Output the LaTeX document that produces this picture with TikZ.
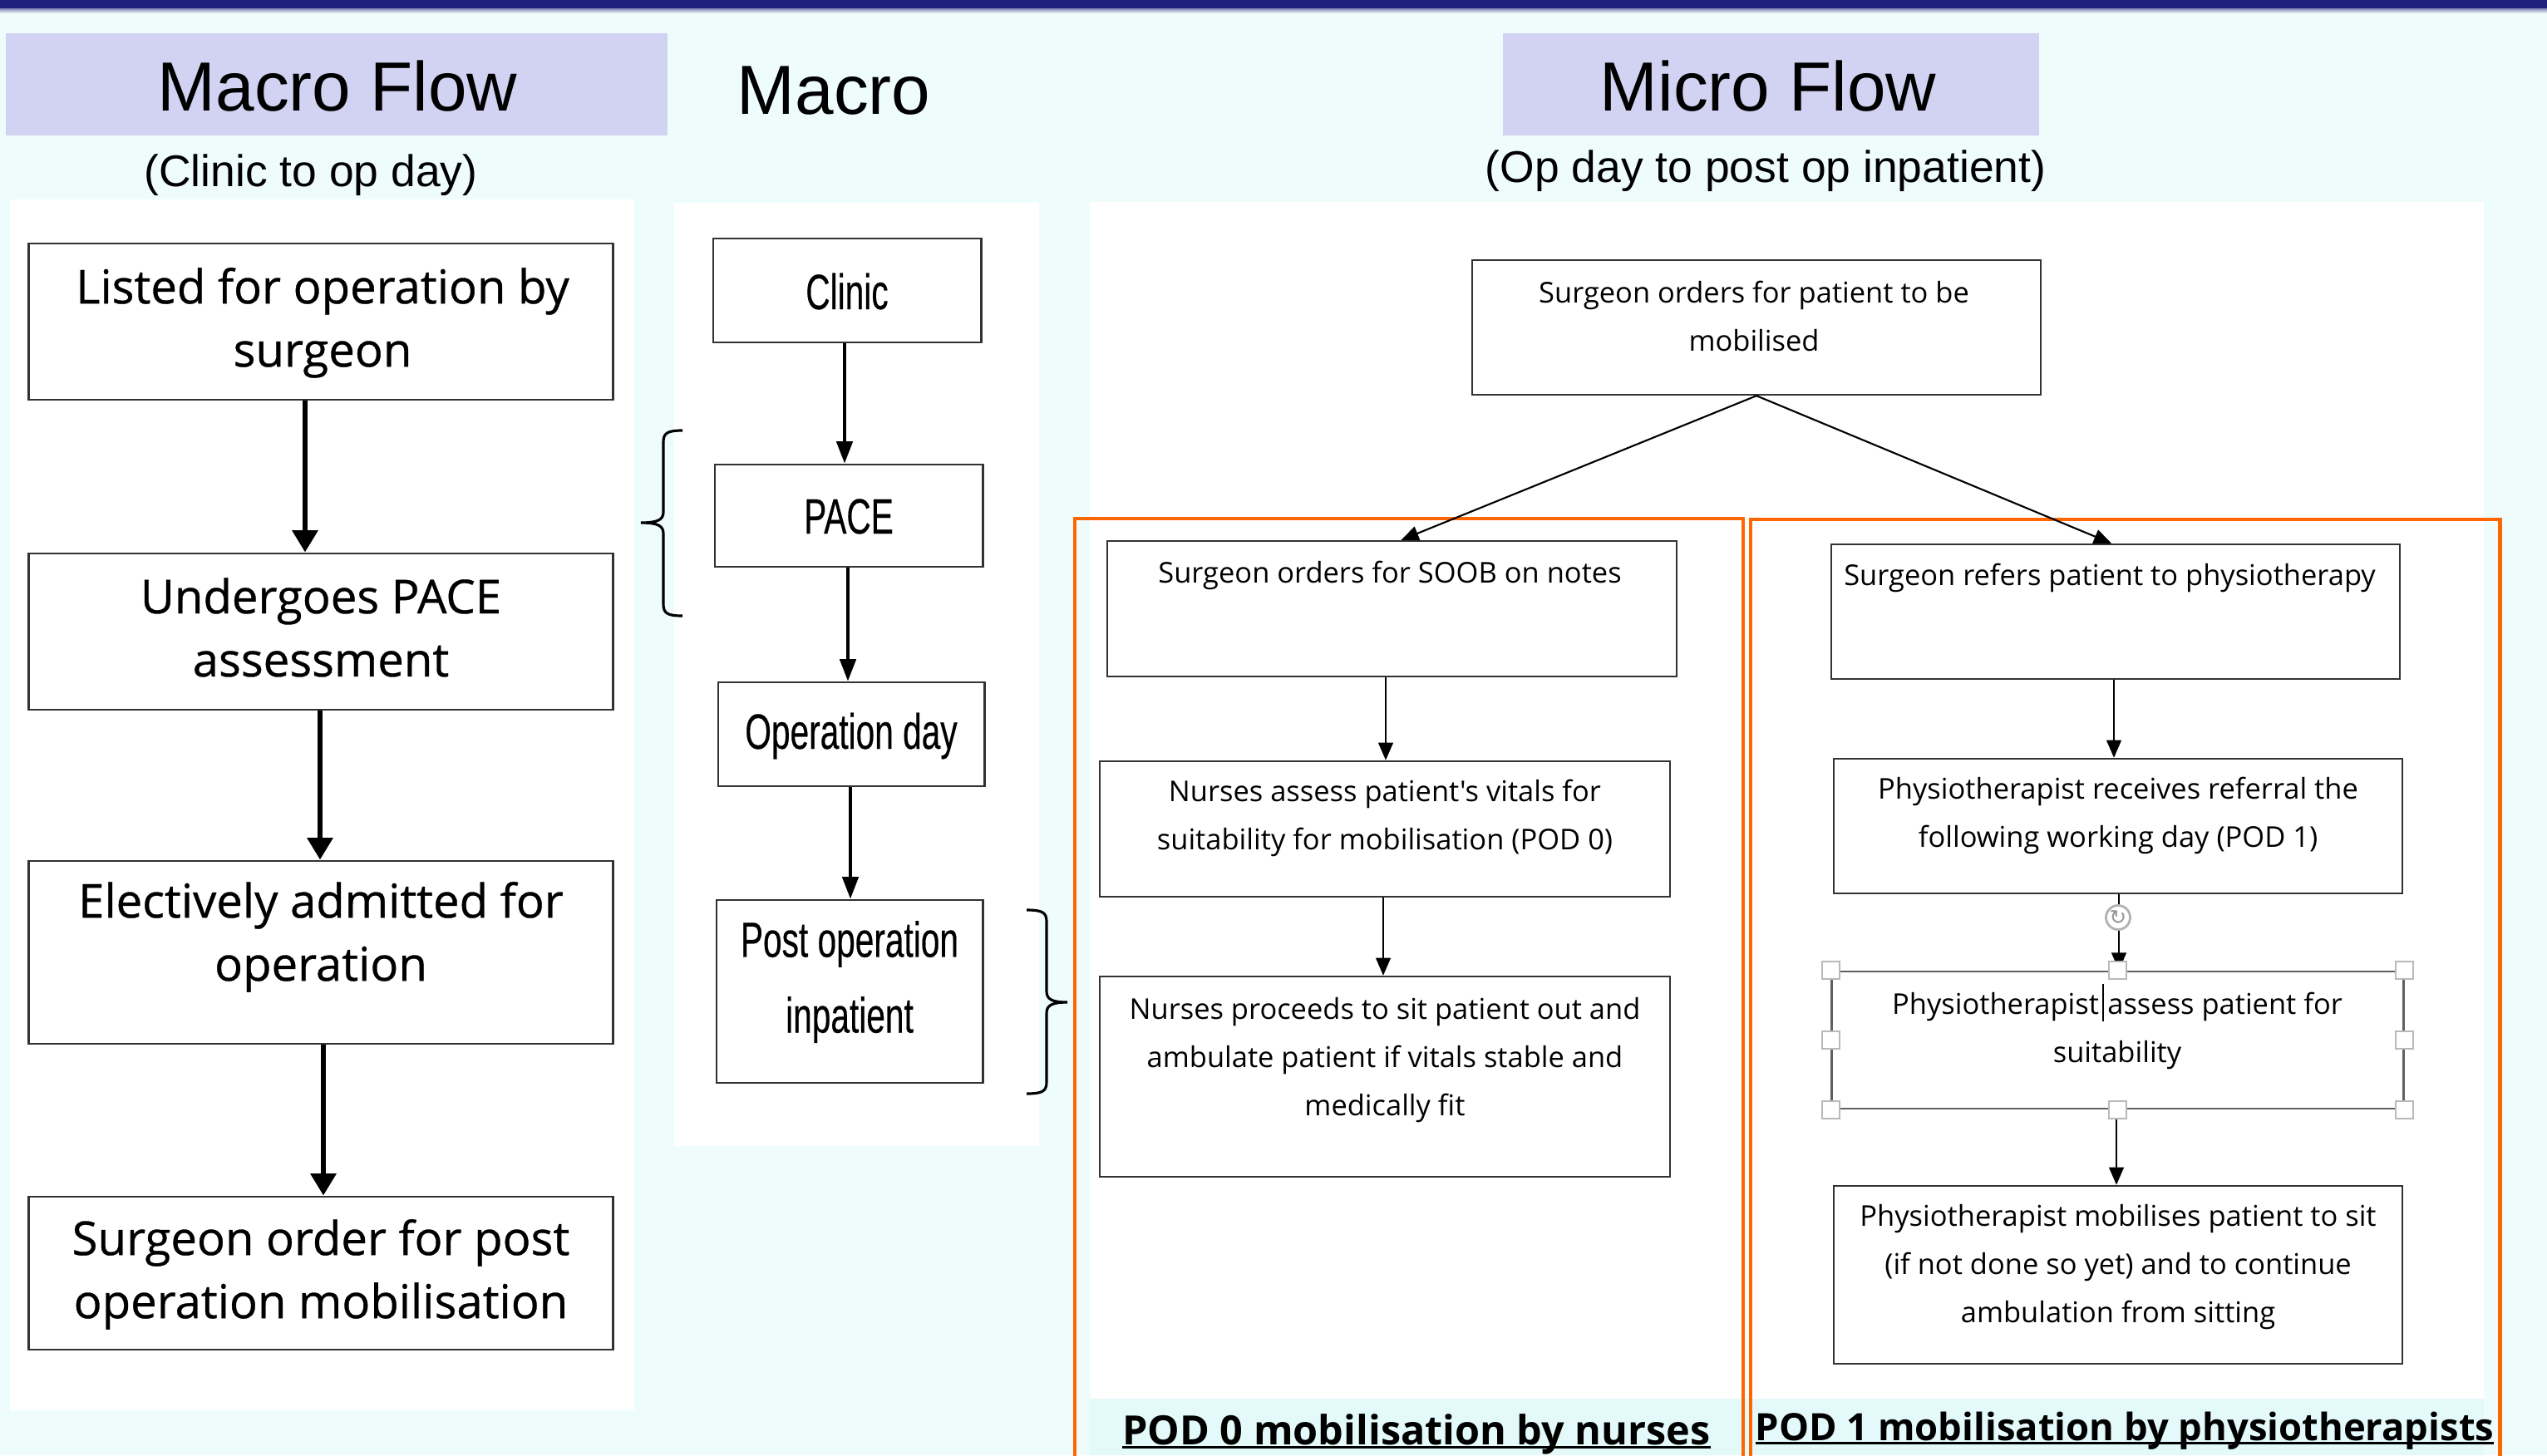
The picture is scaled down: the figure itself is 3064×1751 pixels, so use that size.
\documentclass[tikz,border=0pt]{standalone}
\usepackage{fontspec}
\setmainfont{Liberation Sans}
\newfontfamily\apt{Open Sans}
\newfontfamily\aptm[FakeBold=0.6]{Open Sans}
\newfontfamily\narrowf[FakeStretch=0.68,FakeBold=0.3]{Liberation Sans}
\newfontfamily\dejavu{DejaVu Sans}
\usetikzlibrary{arrows.meta}
\definecolor{bgc}{RGB}{238,252,252}
\definecolor{stripc}{RGB}{228,249,249}
\definecolor{navy}{RGB}{30,32,122}
\definecolor{lav}{RGB}{210,210,242}
\definecolor{orng}{RGB}{255,102,0}
\definecolor{boxline}{RGB}{50,50,50}
\newcommand\myul[1]{\setbox0\hbox{#1}\rlap{\rule[-0.11em]{\wd0}{0.075em}}\box0}
\begin{document}
\begin{tikzpicture}[x=0.01cm,y=-0.01cm,
  lbox/.style={draw=boxline,line width=0.8pt,fill=white,inner sep=0pt,rectangle},
  mbox/.style={draw=boxline,line width=0.8pt,fill=white,inner sep=0pt,rectangle},
  ubox/.style={draw=boxline,line width=0.65pt,fill=white,inner sep=0pt,rectangle},
  selbox/.style={draw=gray!75!black,line width=0.8pt,fill=white,inner sep=0pt,rectangle},
  ltext/.style={align=center,inner sep=0pt,font=\aptm\fontsize{16pt}{21.6pt}\selectfont,
    execute at begin node=\strut,execute at end node=\strut},
  mtext/.style={inner sep=0pt,anchor=base,font=\narrowf\fontsize{17pt}{25.9pt}\selectfont},
  mtext2/.style={align=center,inner sep=0pt,font=\narrowf\fontsize{17pt}{25.9pt}\selectfont,
    execute at begin node=\strut,execute at end node=\strut},
  utext/.style={align=center,inner sep=0pt,font=\apt\fontsize{9.8pt}{16.5pt}\selectfont,
    execute at begin node=\strut,execute at end node=\strut},
  utext1/.style={inner sep=0pt,anchor=base,font=\apt\fontsize{9.8pt}{16.5pt}\selectfont},
  hdr/.style={inner sep=0pt,anchor=base,font=\fontsize{23.8pt}{28pt}\selectfont},
  sub/.style={inner sep=0pt,anchor=base,font=\fontsize{15.2pt}{18pt}\selectfont},
  podlbl/.style={inner sep=0pt,anchor=base},
  thickarr/.style={line width=1.8pt,-{Triangle[width=8.5pt,length=7.5pt]}},
  midarr/.style={line width=1pt,-{Triangle[width=5.5pt,length=7.5pt]}},
  micarr/.style={line width=0.65pt,-{Triangle[width=5pt,length=6pt]}},
  bracestyle/.style={line width=0.9pt,black},
  frame/.style={draw=orng,line width=1.4pt},
  handle/.style={rectangle,minimum size=0.21cm,inner sep=0pt,fill=white,draw=gray!55,line width=0.6pt}
]
% background
\useasboundingbox (0,0) rectangle (3064,1751);
\fill[bgc] (0,0) rectangle (3064,1751);
\fill[navy] (0,0) rectangle (3064,10);
\shade[top color=navy!55,bottom color=bgc] (0,10) rectangle (3064,16);

% header boxes
\fill[lav] (7,40) rectangle (803,163);
\fill[lav] (1808,40) rectangle (2453,163);
\node[hdr] (hMacroFlow) at (406,133) {Macro Flow};
\node[hdr] (hMacro) at (1003,137) {Macro};
\node[hdr] (hMicroFlow) at (2127,133) {Micro Flow};
\node[sub] (sClinic) at (374,224) {(Clinic to op day)};
\node[sub] (sOpday) at (2124,219) {(Op day to post op inpatient)};

% white panels
\fill[white] (12,240) rectangle (763,1697);
\fill[white] (811,244) rectangle (1250,1379);
\fill[white] (1311,243) rectangle (2988,1683);
\fill[stripc] (1311,1683) rectangle (2988,1751);

% orange frames
\draw[frame] (1293,1760) -- (1293,624) -- (2097,624) -- (2097,1760);
\draw[frame] (2106,1760) -- (2106,625) -- (3007,625) -- (3007,1760);

% ---------- Macro flow (left) ----------
\node[lbox,minimum width=7.02cm,minimum height=1.88cm] (L1) at (386,387) {};
\node[lbox,minimum width=7.02cm,minimum height=1.88cm] (L2) at (386,760) {};
\node[lbox,minimum width=7.02cm,minimum height=2.20cm] (L3) at (386,1146) {};
\node[lbox,minimum width=7.02cm,minimum height=1.84cm] (L4) at (386,1532) {};
\node[ltext] (tL1) at (388,393) {Listed for operation by\\surgeon};
\node[ltext] (tL2) at (386,766) {Undergoes PACE\\assessment};
\node[ltext] (tL3) at (386,1132) {Electively admitted for\\operation};
\node[ltext] (tL4) at (386,1538) {Surgeon order for post\\operation mobilisation};
\draw[thickarr] ([xshift=-0.19cm]L1.south) -- ([xshift=-0.19cm]L1.south |- L2.north);
\draw[thickarr] ([xshift=-0.01cm]L2.south) -- ([xshift=-0.01cm]L2.south |- L3.north);
\draw[thickarr] ([xshift=0.03cm]L3.south) -- ([xshift=0.03cm]L3.south |- L4.north);

% ---------- Macro (middle) ----------
\node[mbox,minimum width=3.22cm,minimum height=1.25cm] (M1) at (1019,349.5) {};
\node[mbox,minimum width=3.22cm,minimum height=1.23cm] (M2) at (1021,620.5) {};
\node[mbox,minimum width=3.20cm,minimum height=1.25cm] (M3) at (1024,883.5) {};
\node[mbox,minimum width=3.20cm,minimum height=2.20cm] (M4) at (1022,1193) {};
\node[mtext] (tM1) at (1019,372) {Clinic};
\node[mtext] (tM2) at (1021,642) {PACE};
\node[mtext] (tM3) at (1024,901) {Operation day};
\node[mtext2] (tM4) at (1022,1189) {Post operation\\inpatient};
\draw[midarr] ([xshift=-0.03cm]M1.south) -- ([xshift=-0.03cm]M1.south |- M2.north);
\draw[midarr] ([xshift=-0.01cm]M2.south) -- ([xshift=-0.01cm]M2.south |- M3.north);
\draw[midarr] ([xshift=-0.01cm]M3.south) -- ([xshift=-0.01cm]M3.south |- M4.north);

% braces
\draw[bracestyle] (821,518) .. controls (803,518) and (798,521) .. (798,532) -- (798,616)
  .. controls (798,625) and (792,629) .. (771,629) .. controls (792,629) and (798,633) .. (798,642)
  -- (798,727) .. controls (798,738) and (803,741) .. (821,741);
\draw[bracestyle] (1235,1095) .. controls (1254,1095) and (1259,1098) .. (1259,1109) -- (1259,1193)
  .. controls (1259,1202) and (1265,1206) .. (1284,1206) .. controls (1265,1206) and (1259,1210) .. (1259,1219)
  -- (1259,1302) .. controls (1259,1313) and (1254,1316) .. (1235,1316);

% ---------- Micro flow ----------
\node[ubox,minimum width=6.84cm,minimum height=1.62cm] (T) at (2113,394) {};
\node[utext] (tT) at (2110,389) {Surgeon orders for patient to be\\mobilised};

\node[ubox,minimum width=6.85cm,minimum height=1.63cm] (S1) at (1674.5,732.5) {};
\node[ubox,minimum width=6.86cm,minimum height=1.63cm] (S2) at (1666,997.5) {};
\node[ubox,minimum width=6.86cm,minimum height=2.41cm] (S3) at (1666,1295.5) {};
\node[utext1] (tS1) at (1672,701) {Surgeon orders for SOOB on notes};
\node[utext] (tS2) at (1666,989) {Nurses assess patient's vitals for\\suitability for mobilisation (POD 0)};
\node[utext] (tS3) at (1666,1280) {Nurses proceeds to sit patient out and\\ambulate patient if vitals stable and\\medically fit};

\node[ubox,minimum width=6.84cm,minimum height=1.62cm] (R1) at (2545,736) {};
\node[ubox,minimum width=6.84cm,minimum height=1.62cm] (R2) at (2548,994) {};
\node[selbox,minimum width=6.87cm,minimum height=1.65cm] (R3) at (2547.5,1251.5) {};
\node[ubox,minimum width=6.84cm,minimum height=2.14cm] (R4) at (2548,1534) {};
\node[utext1] (tR1) at (2538,704) {Surgeon refers patient to physiotherapy};
\node[utext] (tR2) at (2548,986) {Physiotherapist receives referral the\\following working day (POD 1)};
\node[utext] (tR3) at (2547,1240) {Physiotherapist\hspace{0.12em}\rule[-0.23em]{0.6pt}{1.3em}\hspace{0.12em}assess patient for\\suitability};
\node[utext] (tR4) at (2548,1529) {Physiotherapist mobilises patient to sit\\(if not done so yet) and to continue\\ambulation from sitting};

\draw[micarr,line width=0.6pt] (T.south) -- ([xshift=0.11cm]S1.north);
\draw[micarr,line width=0.6pt] (T.south) -- ([xshift=-0.05cm]R1.north);
\draw[micarr] ([xshift=-0.075cm]S1.south) -- ([xshift=-0.075cm]S1.south |- S2.north);
\draw[micarr] ([xshift=-0.02cm]S2.south) -- ([xshift=-0.02cm]S2.south |- S3.north);
\draw[micarr] ([xshift=-0.02cm]R1.south) -- ([xshift=-0.02cm]R1.south |- R2.north);
\draw[micarr] ([xshift=0.01cm]R2.south) -- ([xshift=0.01cm]R2.south |- R3.north);
\draw[micarr] ([xshift=-0.015cm]R3.south) -- ([xshift=-0.015cm]R3.south |- R4.north);

% selection handles and rotation handle
\node[circle,minimum size=0.29cm,inner sep=0pt,fill=white,draw=gray!60,line width=0.8pt] (rot) at (2548,1104) {};
\node[inner sep=0pt,text=gray!85,font=\dejavu\fontsize{7pt}{8pt}\selectfont] (rotg) at (rot) {↻};
\node[handle] (h1) at (R3.north west) {};
\node[handle] (h2) at (R3.north) {};
\node[handle] (h3) at (R3.north east) {};
\node[handle] (h4) at (R3.west) {};
\node[handle] (h5) at (R3.east) {};
\node[handle] (h6) at (R3.south west) {};
\node[handle] (h7) at (R3.south) {};
\node[handle] (h8) at (R3.south east) {};

% bottom labels
\node[podlbl,font=\apt\bfseries\fontsize{13.8pt}{16pt}\selectfont] (pod0) at (1704,1738) {\myul{POD 0 mobilisation by nurses}};
\node[podlbl,font=\apt\bfseries\fontsize{12.9pt}{15pt}\selectfont] (pod1) at (2556,1733) {\myul{POD 1 mobilisation by physiotherapists}};
\end{tikzpicture}
\end{document}
